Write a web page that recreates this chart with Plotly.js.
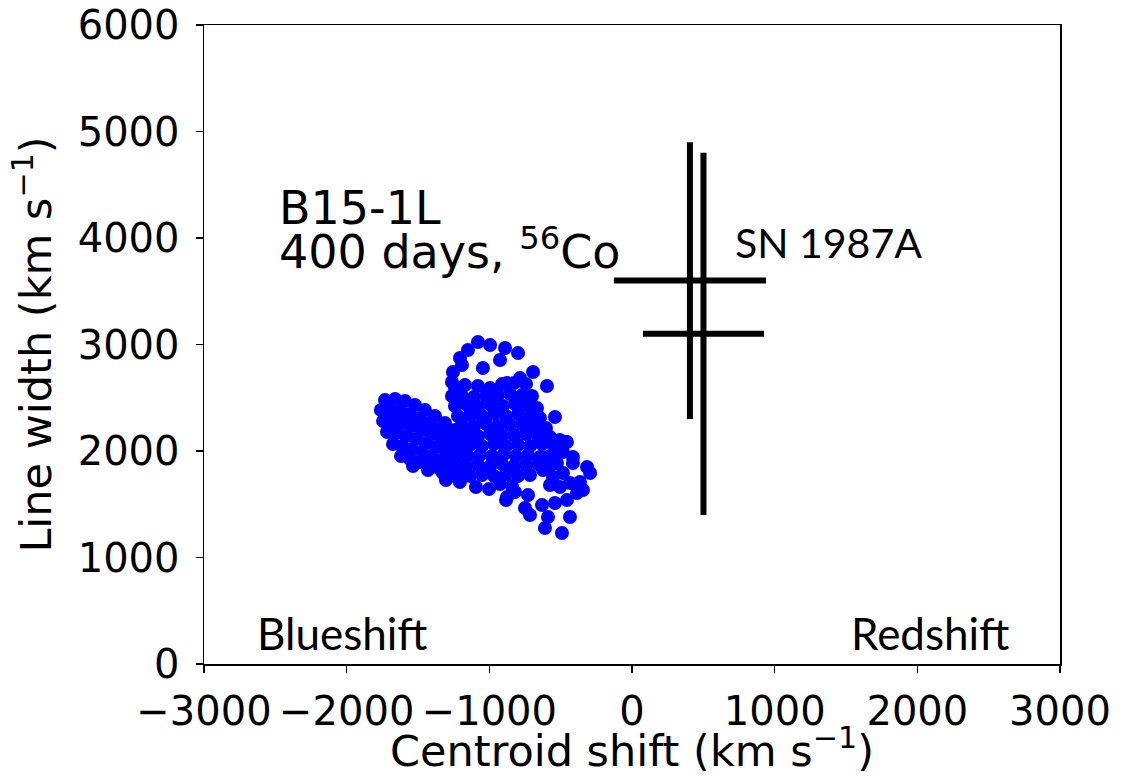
<!DOCTYPE html>
<html>
<head>
<meta charset="utf-8">
<script src="https://cdn.plot.ly/plotly-3.0.1.min.js"></script>
<style>html,body{margin:0;padding:0;background:#fff;}#chart{width:1143px;height:776px;}</style>
</head>
<body>
<div id="chart"></div>
<script>
// Model B15-1L, 400 days, 56Co: centroid shift (km/s) and line width (km/s) per viewing angle
const modelShift = [
  // diagonal lobe
  -1731,-1661,-1591,-1521,-1451,-1381,-1311,-1241,
  -1760,-1696,-1626,-1556,-1486,-1416,-1346,-1276,-1206,
  -1745,-1682,-1612,-1542,-1472,-1402,-1332,-1262,-1192,
  -1717,-1654,-1584,-1514,-1444,-1374,-1304,-1234,
  -1675,-1612,-1542,-1472,-1402,-1332,-1262,-1192,
  -1619,-1556,-1486,-1416,-1346,-1276,-1206,
  -1535,-1430,-1325,-1220,
  // central blob
  -1241,-1171,-1080,-995,-911,-827,-743,
  -1262,-1192,-1108,-1023,-939,-855,-771,-701,
  -1241,-1157,-1073,-988,-904,-820,-736,-666,
  -1220,-1136,-1052,-967,-883,-799,-715,-645,
  -1192,-1108,-1023,-939,-855,-771,-687,-603,
  -1164,-1080,-995,-911,-827,-743,-659,-575,-505,
  -1136,-1052,-967,-883,-799,-715,-631,-547,-463,
  -1150,-1066,-981,-897,-813,-729,-645,-561,-484,
  -1164,-1080,-995,-911,-827,-743,-659,-575,
  -1136,-1052,-967,-883,-799,-715,
  -1094,-1002,-925,-841,
  -1304,-1206,-883,-820,
  // upper loop
  -1241,-1262,-1255,-1206,-1150,-1080,-995,-890,-799,-925,-1045,-694,-785,-876,-1192,
  // right tail
  -596,-540,-456,-414,-315,-294,-344,-435,-491,-610,-589,-631,-729,-750,-715,-876,
  -540,-456,-386,-505,-435,-365,-575,-484,-554,-624,-526,-596,-414
];
const modelWidth = [
  2479,2489,2470,2432,2385,2329,2263,2197,
  2385,2385,2376,2348,2310,2263,2207,2150,2103,
  2282,2282,2263,2235,2197,2160,2103,2056,2019,
  2178,2169,2141,2113,2075,2038,1991,1953,
  2066,2047,2019,1991,1953,1916,1878,1850,
  1953,1925,1897,1869,1831,1803,1765,
  1859,1822,1793,1747,
  2592,2620,2610,2592,2629,2639,2629,
  2517,2517,2507,2517,2526,2535,2526,2517,
  2423,2432,2413,2432,2423,2441,2432,2404,
  2329,2338,2329,2348,2329,2348,2329,2310,
  2244,2235,2254,2235,2244,2254,2235,2216,
  2150,2141,2160,2141,2150,2160,2141,2132,2103,
  2056,2047,2066,2047,2056,2047,2066,2047,2085,
  1953,1963,1953,1972,1953,1963,1944,1963,1991,
  1859,1869,1859,1878,1859,1869,1878,1859,
  1765,1775,1765,1784,1765,1775,
  1662,1643,1690,1671,
  1728,1709,1540,1615,
  2498,2648,2742,2873,2948,3024,2995,2967,2920,2855,2779,2742,2686,2639,2808,
  2610,2319,2085,1944,1850,1793,1634,1380,1230,1277,1380,1493,1587,1465,1399,1568,
  1512,1540,1606,1662,1700,1709,1681,1793,1756,1822,1887,1944,1887
];
// SN 1987A observed values with uncertainties
const obsShift = [406, 501];
const obsShiftErr = [533, 424];
const obsWidth = [3600, 3100];
const obsWidthErr = [1300, 1700];
const xTicks = [-3000, -2000, -1000, 0, 1000, 2000, 3000];
const yTicks = [0, 1000, 2000, 3000, 4000, 5000, 6000];

const traces = [
  {
    type: 'scatter', mode: 'markers', x: modelShift, y: modelWidth,
    marker: {color: '#0000ff', size: 14, line: {width: 0}},
    hoverinfo: 'skip', showlegend: false
  },
  {
    type: 'scatter', mode: 'markers', x: obsShift, y: obsWidth,
    marker: {color: 'black', size: 1},
    error_x: {type: 'data', array: obsShiftErr, visible: true, color: 'black', thickness: 6, width: 0},
    error_y: {type: 'data', array: obsWidthErr, visible: true, color: 'black', thickness: 6, width: 0},
    hoverinfo: 'skip', showlegend: false
  }
];

const tickFont = {family: 'DejaVu Sans', size: 40, color: 'black'};
const titleFont = {family: 'DejaVu Sans', size: 43, color: 'black'};
const labFont = {family: 'Lato', size: 41, color: 'black'};
const edgeFont = {family: 'Lato', size: 44, color: 'black'};
const layout = {
  width: 1143, height: 776,
  margin: {l: 204, r: 83, t: 25, b: 112, pad: 0},
  paper_bgcolor: 'white', plot_bgcolor: 'white',
  showlegend: false,
  xaxis: {
    range: [-3000, 3000], tickvals: xTicks, ticktext: xTicks.map(v => v < 0 ? '\u2212' + Math.abs(v) : String(v)),
    ticks: 'outside', ticklen: 7, tickwidth: 1.5, tickcolor: 'black',
    showline: true, linecolor: 'black', linewidth: 1.5, mirror: true,
    showgrid: false, zeroline: false, tickfont: tickFont, ticklabelstandoff: 4,
    title: {text: 'Centroid shift (km s<sup>\u22121</sup>)', font: titleFont, standoff: 8},
    automargin: false
  },
  yaxis: {
    range: [0, 6000], tickvals: yTicks, ticktext: yTicks.map(String),
    ticks: 'outside', ticklen: 7, tickwidth: 1.5, tickcolor: 'black',
    showline: true, linecolor: 'black', linewidth: 1.5, mirror: true,
    showgrid: false, zeroline: false, tickfont: tickFont, ticklabelstandoff: 8,
    title: {text: 'Line width (km s<sup>\u22121</sup>)', font: titleFont, standoff: 12},
    automargin: false
  },
  annotations: [
    {xref: 'paper', yref: 'paper', x: 0.0852, y: 0.713, xanchor: 'left', yanchor: 'middle', showarrow: false,
     text: 'B15-1L', font: {family: 'DejaVu Sans', size: 46, color: 'black'}},
    {xref: 'paper', yref: 'paper', x: 0.0852, y: 0.650, xanchor: 'left', yanchor: 'middle', showarrow: false,
     text: '400 days, <sup>56</sup>Co', font: {family: 'DejaVu Sans', size: 46, color: 'black'}},
    {xref: 'paper', yref: 'paper', x: 0.618, y: 0.660, xanchor: 'left', yanchor: 'middle', showarrow: false,
     text: 'SN 1987A', font: labFont},
    {xref: 'paper', yref: 'paper', x: 0.059, y: 0.049, xanchor: 'left', yanchor: 'middle', showarrow: false,
     text: 'Blueshift', font: edgeFont},
    {xref: 'paper', yref: 'paper', x: 0.753, y: 0.049, xanchor: 'left', yanchor: 'middle', showarrow: false,
     text: 'Redshift', font: edgeFont}
  ]
};
Plotly.newPlot('chart', traces, layout, {staticPlot: true, displayModeBar: false});
</script>
</body>
</html>
